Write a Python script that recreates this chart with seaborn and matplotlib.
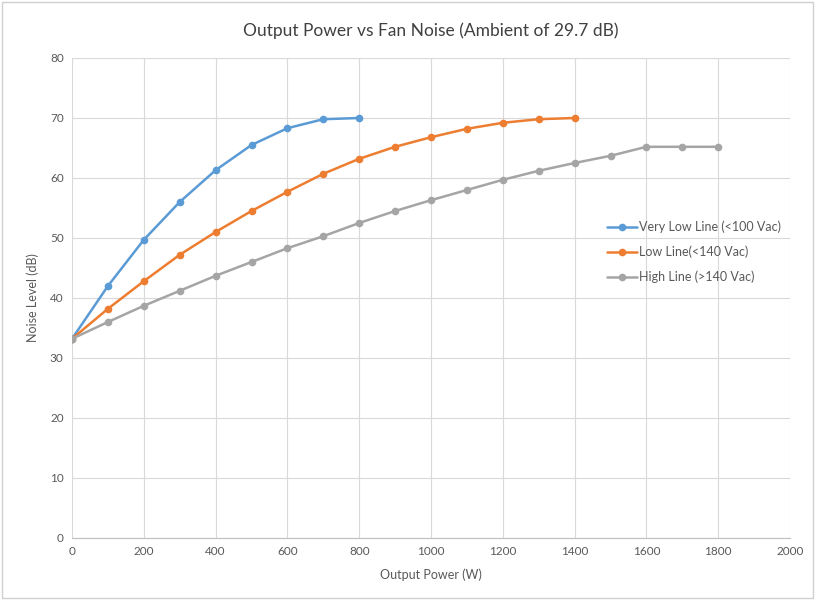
import pandas as pd
import numpy as np
import matplotlib.pyplot as plt
import seaborn as sns

# Readings
power_vll = [0, 100, 200, 300, 400, 500, 600, 700, 800]
noise_vll = [33.2, 42.0, 49.7, 56.0, 61.3, 65.5, 68.3, 69.8, 70.0]

power_ll = [0, 100, 200, 300, 400, 500, 600, 700, 800, 900, 1000, 1100, 1200, 1300, 1400]
noise_ll = [33.2, 38.2, 42.8, 47.2, 51.0, 54.5, 57.7, 60.7, 63.2, 65.2, 66.8, 68.2, 69.2, 69.8, 70.0]

power_hl = [0, 100, 200, 300, 400, 500, 600, 700, 800, 900, 1000, 1100, 1200,
            1300, 1400, 1500, 1600, 1700, 1800]
noise_hl = [33.2, 36.0, 38.7, 41.2, 43.7, 46.0, 48.3, 50.3, 52.5, 54.5, 56.3, 58.0, 59.7,
            61.2, 62.5, 63.7, 65.2, 65.2, 65.2]

series_names = ['Very Low Line (<100 Vac)', 'Low Line(<140 Vac)', 'High Line (>140 Vac)']
colors = ['#5B9BD5', '#ED7D31', '#A5A5A5']

# Build long-form table for seaborn
df = pd.concat([
    pd.DataFrame({'Power': power_vll, 'Noise': noise_vll, 'Series': series_names[0]}),
    pd.DataFrame({'Power': power_ll, 'Noise': noise_ll, 'Series': series_names[1]}),
    pd.DataFrame({'Power': power_hl, 'Noise': noise_hl, 'Series': series_names[2]}),
], ignore_index=True)

sns.set_style('white')
plt.rcParams['font.family'] = ['Lato', 'DejaVu Sans']

fig = plt.figure(figsize=(8.15, 6), dpi=100)
ax = fig.add_axes([72 / 815, 62 / 600, 718 / 815, 480 / 600])

sns.lineplot(data=df, x='Power', y='Noise', hue='Series', hue_order=series_names,
             palette=colors, marker='o', markersize=5.5, markeredgewidth=0,
             linewidth=1.8, ax=ax, sort=False)

ax.set_xlim(0, 2000)
ax.set_ylim(0, 80)
ax.set_xticks(range(0, 2001, 200))
ax.set_yticks(range(0, 81, 10))
ax.grid(True, color='#D9D9D9', linewidth=0.8)
ax.set_axisbelow(True)
for side in ['top', 'right']:
    ax.spines[side].set_visible(False)
ax.spines['left'].set_visible(False)
ax.spines['bottom'].set_color('#BFBFBF')
ax.tick_params(axis='both', length=0, labelsize=8.5, labelcolor='#595959', pad=6)

ax.set_xlabel('Output Power (W)', fontsize=9, color='#595959', labelpad=8)
ax.set_ylabel('Noise Level (dB)', fontsize=9, color='#595959', labelpad=8)
ax.set_title('Output Power vs Fan Noise (Ambient of 29.7 dB)', fontsize=12.5,
             color='#404040', pad=16)

leg = ax.legend(loc='center left', bbox_to_anchor=(0.73, 0.596), frameon=False,
                fontsize=9, labelcolor='#595959', handlelength=2.4, labelspacing=1.0,
                handletextpad=0.15)

# light border around the whole figure
fig.patches.append(plt.Rectangle((0.003, 0.003), 0.994, 0.994, transform=fig.transFigure,
                                 fill=False, edgecolor='#D0D0D0', linewidth=1))

plt.savefig('out.png', dpi=100)
plt.close()
